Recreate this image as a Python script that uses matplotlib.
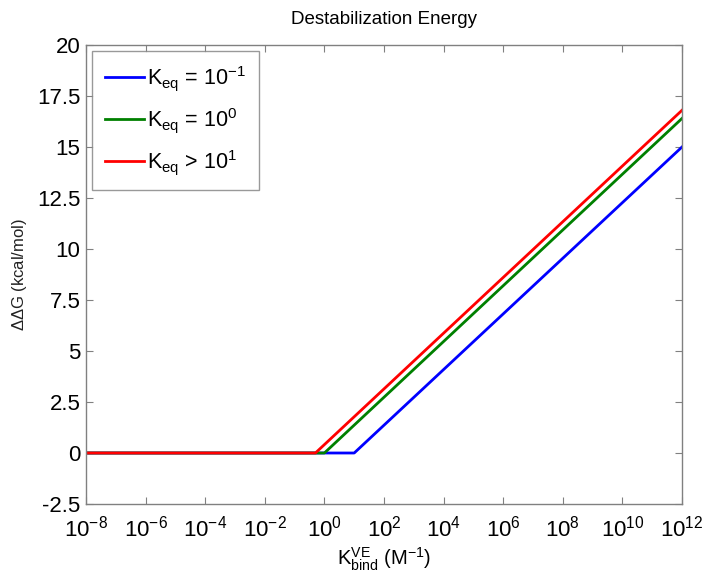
import numpy as np
import matplotlib
matplotlib.use("Agg")
import matplotlib.pyplot as plt
from matplotlib.ticker import FixedLocator, FuncFormatter

plt.rcParams['font.family'] = ['Liberation Sans', 'DejaVu Sans']
plt.rcParams['mathtext.fontset'] = 'custom'
plt.rcParams['mathtext.rm'] = 'Liberation Sans'
plt.rcParams['mathtext.it'] = 'Liberation Sans'
plt.rcParams['mathtext.default'] = 'regular'

# binding constant (M^-1) and destabilization energy (kcal/mol)
k_blue = [1e-8, 1e1, 1e12]
dg_blue = [0, 0, 15.0]
k_green = [1e-8, 1e0, 1e12]
dg_green = [0, 0, 16.4]
k_red = [1e-8, 0.5, 1e12]
dg_red = [0, 0, 16.8]

labels = ['K$_{eq}$ = 10$^{-1}$', 'K$_{eq}$ = 10$^{0}$', 'K$_{eq}$ > 10$^{1}$']
y_ticks = [-2.5, 0, 2.5, 5, 7.5, 10, 12.5, 15, 17.5, 20]
x_exps = [-8, -6, -4, -2, 0, 2, 4, 6, 8, 10, 12]

fig = plt.figure(figsize=(7.06, 5.73), dpi=100)
ax = fig.add_axes([86 / 706, 69 / 573, 596 / 706, 459 / 573])

ax.plot(k_blue, dg_blue, color='#0000ff', lw=2, label=labels[0])
ax.plot(k_green, dg_green, color='#008000', lw=2, label=labels[1])
ax.plot(k_red, dg_red, color='#ff0000', lw=2, label=labels[2])

ax.set_xscale('log')
ax.set_xlim(1e-8, 1e12)
ax.set_ylim(-2.5, 20)
ax.xaxis.set_major_locator(FixedLocator([10.0 ** e for e in x_exps]))
ax.xaxis.set_minor_locator(FixedLocator([]))
ax.xaxis.set_major_formatter(FuncFormatter(
    lambda v, p: '10$^{%d}$' % int(round(np.log10(v)))))
ax.set_yticks(y_ticks)
ax.set_yticklabels(['%g' % t for t in y_ticks])

ax.tick_params(direction='in', length=5, width=0.8, color='#808080',
               labelsize=16, top=True, right=True, pad=4)
ax.tick_params(axis='x', pad=8)
for s in ax.spines.values():
    s.set_color('#808080')
    s.set_linewidth(1.0)

ax.set_title('Destabilization Energy', fontsize=13.5, pad=15)
ax.set_ylabel(r'$\Delta\Delta$G (kcal/mol)', fontsize=12, color='#222222', labelpad=6)
ax.set_xlabel('K$^{VE}_{bind}$ (M$^{-1}$)', fontsize=14.5, labelpad=3)

leg = ax.legend(loc='upper left', fontsize=15.5, frameon=True, fancybox=False,
                edgecolor='#808080', handlelength=1.8, handletextpad=0.15,
                borderaxespad=0.3, borderpad=0.6, labelspacing=0.6)
leg.get_frame().set_linewidth(1.0)

fig.savefig('out.png', dpi=100)
